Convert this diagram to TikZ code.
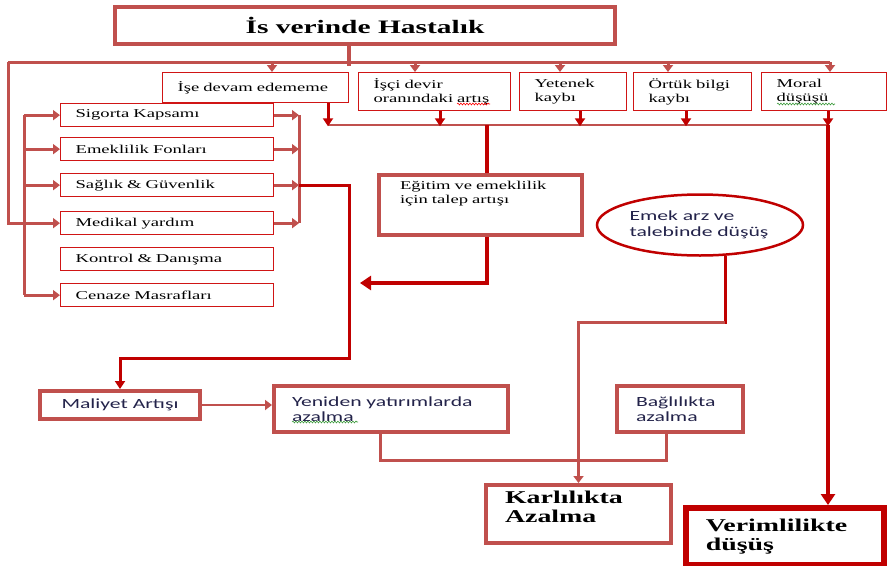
\documentclass[tikz,border=0pt]{standalone}
\usepackage{fontspec}
\usetikzlibrary{arrows.meta,shapes.geometric,decorations.pathmorphing}
\newfontfamily\wideserif[FakeStretch=1.55]{Liberation Serif}
\newfontfamily\widesans[FakeStretch=1.55]{Carlito}
\newcommand{\smallserif}{\wideserif\fontsize{12}{14}\selectfont}
\newcommand{\headserif}{\wideserif\bfseries\fontsize{18}{19}\selectfont}
\newcommand{\plainsans}{\widesans\fontsize{14}{15.5}\selectfont\color{inkblue}}
\definecolor{palered}{HTML}{C0504D}
\definecolor{deepred}{HTML}{C00000}
\definecolor{boxred}{HTML}{D01515}
\definecolor{inkblue}{HTML}{23234A}
\definecolor{spellgreen}{HTML}{3C9A3C}
\tikzset{
  thinbox/.style={draw=boxred, line width=1.3pt, anchor=north west, align=left,
    inner xsep=15pt, inner ysep=0pt, font=\smallserif},
  palebox/.style={draw=palered, line width=4pt, anchor=north west, align=left,
    inner ysep=0pt},
  paleline/.style={draw=palered, line width=3pt},
  palearrow/.style={paleline, -{Triangle[width=10pt,length=7pt]}},
  redline/.style={draw=deepred, line width=3pt},
  redarrow/.style={redline, -{Triangle[width=10pt,length=8pt]}},
  bigarrow/.style={draw=deepred, line width=4.5pt, -{Triangle[width=14pt,length=11pt]}},
  squiggle/.style={line width=0.6pt, decorate,
    decoration={snake, amplitude=0.9pt, segment length=3pt}},
}
\begin{document}
\begin{tikzpicture}[x=1pt,y=-1pt]
  \useasboundingbox (0,0) rectangle (888,565);
  % Title
  \node[palebox, minimum width=500pt, minimum height=37pt, inner xsep=0pt, align=center,
    font=\wideserif\bfseries\fontsize{19}{21}\selectfont] (hastalik) at (113,5) {İs verinde Hastalık};
  % Top row
  \node[thinbox, text width=156pt, minimum height=30pt] (devam) at (162,72) {İşe devam edememe};
  \node[thinbox, text width=122pt, minimum height=38pt] (devir) at (358,72) {İşçi devir\\oranındaki artış};
  \node[thinbox, text width=77pt, minimum height=38pt] (yetenek) at (519,72) {Yetenek\\kaybı};
  \node[thinbox, text width=88pt, minimum height=38pt] (ortuk) at (633,72) {Örtük bilgi\\kaybı};
  \node[thinbox, text width=95pt, minimum height=38pt] (moral) at (761,72) {Moral\\düşüşü};
  % Cost items
  \foreach \nm/\yy/\txt in {sigorta/103/Sigorta Kapsamı, emeklilik/137/Emeklilik Fonları,
      saglik/173/Sağlık \& Güvenlik, medikal/211/Medikal yardım,
      kontrol/247/Kontrol \& Danışma, cenaze/283/Cenaze Masrafları}
    \node[thinbox, text width=183pt, minimum height=23pt] (\nm) at (60,\yy) {\txt};
  % Middle boxes
  \node[palebox, text width=161pt, minimum height=60pt, inner xsep=21pt, font=\smallserif]
    (egitim) at (377,173) {Eğitim ve emeklilik\\için talep artışı\\[12pt]\mbox{}};
  \node[ellipse, draw=deepred, line width=2.5pt, minimum width=206pt, minimum height=61pt,
    inner sep=0pt, text width=141pt, align=left, font=\plainsans]
    (emek) at (700,225) {Emek arz ve\\talebinde düşüş};
  \node[palebox, minimum width=160pt, minimum height=28pt, inner xsep=0pt, align=center,
    font=\plainsans] (maliyet) at (38,389) {Maliyet Artışı};
  \node[palebox, text width=198pt, minimum height=46pt, inner xsep=18pt, font=\plainsans]
    (yeniden) at (272,384) {Yeniden yatırımlarda\\azalma};
  \node[palebox, text width=88pt, minimum height=46pt, inner xsep=19pt, font=\plainsans]
    (baglilik) at (615,384) {Bağlılıkta\\azalma};
  % Results
  \node[palebox, text width=147pt, minimum height=58pt, inner xsep=19pt, font=\headserif]
    (karlilik) at (484,483) {Karlılıkta\\Azalma\\[-4pt]\mbox{}};
  \node[palebox, draw=deepred, line width=5.5pt, text width=158pt, minimum height=57pt,
    inner xsep=20pt, font=\headserif] (verim) at (683,505) {Verimlilikte\\düşüş};

  % Title to top row
  \coordinate (busL) at (8,62);
  \coordinate (busR) at (830,62);
  \draw[paleline, line width=3.5pt] ([xshift=236pt]hastalik.south west) -- ++(0,20);
  \draw[paleline] (busL) -- (busR);
  \foreach \nm/\dx in {devam/110, devir/57, yetenek/41, ortuk/35, moral/69}
    \draw[palearrow] ([xshift=\dx pt]\nm.north west) ++(0,-10) -- ([xshift=\dx pt]\nm.north west);
  % Top row to lower bus
  \coordinate (midL) at (328,125);
  \coordinate (midR) at (828,125);
  \draw[paleline, line width=2.5pt] (midL) -- (midR);
  \foreach \nm/\dx/\len in {devam/166/23, devir/82/15, yetenek/61/15, ortuk/53/15, moral/67/15}
    \draw[redarrow] ([xshift=\dx pt]\nm.south west) -- ++(0,\len);
  % Training demand
  \coordinate (egHead) at (360,283);
  \draw[redline, line width=4pt] ([xshift=110pt]egitim.north west) -- ++(0,-48);
  \draw[bigarrow, line width=4pt] ([xshift=110pt]egitim.south west) |- (egHead);
  % Left brackets
  \draw[palearrow] (busL) |- (medikal.west);
  \coordinate (lb) at (24,0);
  \draw[paleline] (lb |- sigorta.west) -- (lb |- cenaze.west);
  \foreach \nm in {sigorta, emeklilik, saglik, cenaze}
    \draw[palearrow] (lb |- \nm.west) -- (\nm.west);
  % Right bracket
  \coordinate (rb) at (299,0);
  \draw[paleline] (rb |- sigorta.east) -- (rb |- medikal.east);
  \foreach \nm in {sigorta, emeklilik, saglik, medikal}
    \draw[palearrow] (\nm.east) -- (rb |- \nm.east);
  % Cost chain
  \coordinate (costTurn) at (349,358);
  \draw[redarrow] (rb |- saglik.east) -| (costTurn) -| (maliyet.north);
  \draw[palearrow, line width=2.5pt] (maliyet.east) -- (maliyet.east -| yeniden.west);
  \draw[paleline] ([xshift=108pt]yeniden.south west) -- ++(0,26) -| ([xshift=51pt]baglilik.south west);
  % Labour supply to profit
  \coordinate (kTurn) at (725,322);
  \draw[redline] (emek.-50) |- (kTurn);
  \draw[palearrow] (kTurn) -| (karlilik.north);
  % Productivity
  \draw[bigarrow] (midR) -- ([xshift=145pt]verim.north west);
  % Spelling marks
  \draw[squiggle, red] (457,104) -- (490,104);
  \draw[squiggle, spellgreen] (777,104) -- (835,104);
  \draw[squiggle, spellgreen] (292,422) -- (358,422);
\end{tikzpicture}
\end{document}
